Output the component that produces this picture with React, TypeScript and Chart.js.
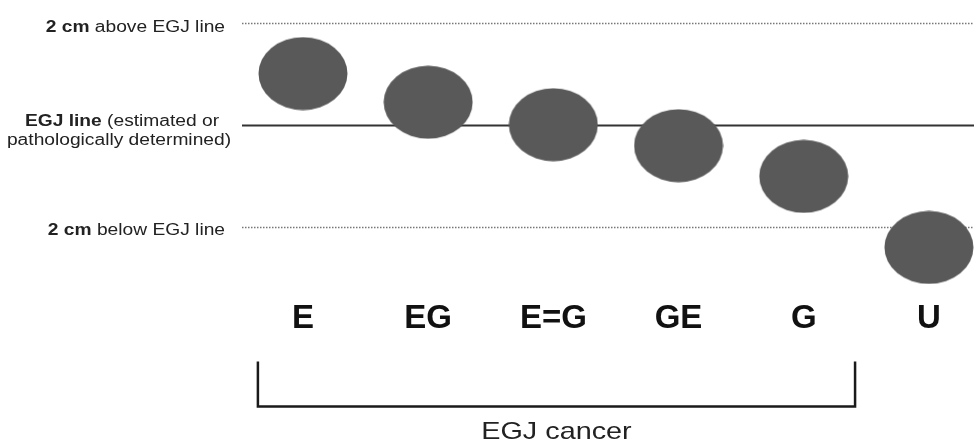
import { useEffect, useRef } from 'react';
import { Chart, registerables } from 'chart.js';

Chart.register(...registerables);

// ---- data ----
const categories = ['E', 'EG', 'E=G', 'GE', 'G', 'U'];
// tumour centre position, cm relative to the EGJ line (+ = above)
const tumorCenters = [1.01, 0.45, 0.01, -0.4, -1.0, -2.39];
const referenceLevels = [2, 0, -2];
const referenceKinds = ['dotted', 'solid', 'dotted'];
const aboveLabel = ['2 cm', ' above EGJ line'];
const lineLabelTop = ['EGJ line', ' (estimated or'];
const lineLabelBottom = ['', 'pathologically determined)'];
const belowLabel = ['2 cm', ' below EGJ line'];
const bracketFrom = 0; // E
const bracketTo = 4; // G
const bracketLabel = 'EGJ cancer';

const FONT = '"Liberation Sans", Arial, Helvetica, sans-serif';
const SX = 1.2; // horizontal stretch of the small texts

function makeEllipse(): HTMLCanvasElement {
  const c = document.createElement('canvas');
  c.width = 90;
  c.height = 74;
  const g = c.getContext('2d')!;
  g.fillStyle = '#595959';
  g.beginPath();
  g.ellipse(45, 37, 44.5, 36.5, 0, 0, Math.PI * 2);
  g.fill();
  return c;
}

function drawMixed(
  ctx: CanvasRenderingContext2D,
  parts: string[],
  x: number,
  y: number,
  align: 'right' | 'center',
  size: number
) {
  const bold = `bold ${size}px ${FONT}`;
  const normal = `${size}px ${FONT}`;
  ctx.font = bold;
  const wb = ctx.measureText(parts[0]).width;
  ctx.font = normal;
  const wn = ctx.measureText(parts[1]).width;
  const total = (wb + wn) * SX;
  const start = align === 'right' ? x - total : x - total / 2;
  ctx.save();
  ctx.translate(start, y);
  ctx.scale(SX, 1);
  ctx.textAlign = 'left';
  ctx.textBaseline = 'alphabetic';
  ctx.fillStyle = '#222';
  ctx.font = bold;
  ctx.fillText(parts[0], 0, 0);
  ctx.font = normal;
  ctx.fillText(parts[1], wb, 0);
  ctx.restore();
}

const diagramPlugin = {
  id: 'egjDiagram',
  beforeDatasetsDraw(chart: any) {
    const { ctx, chartArea, scales } = chart;
    const y = scales.y;
    ctx.save();
    referenceLevels.forEach((lv, i) => {
      const py = Math.round(y.getPixelForValue(lv));
      ctx.beginPath();
      if (referenceKinds[i] === 'dotted') {
        ctx.setLineDash([1.5, 1.5]);
        ctx.strokeStyle = '#777';
        ctx.lineWidth = 1.5;
      } else {
        ctx.setLineDash([]);
        ctx.strokeStyle = '#333';
        ctx.lineWidth = 2;
      }
      ctx.moveTo(chartArea.left, py + 0.5);
      ctx.lineTo(chartArea.right, py + 0.5);
      ctx.stroke();
    });
    ctx.restore();
  },
  afterDraw(chart: any) {
    const { ctx, chartArea, scales } = chart;
    const x = scales.x;
    const y = scales.y;
    ctx.save();
    // left labels
    drawMixed(ctx, aboveLabel, 225, y.getPixelForValue(referenceLevels[0]) + 9, 'right', 16);
    const p0 = y.getPixelForValue(referenceLevels[1]);
    drawMixed(ctx, lineLabelTop, 122, p0 + 1, 'center', 16);
    drawMixed(ctx, lineLabelBottom, 119, p0 + 20, 'center', 16);
    drawMixed(ctx, belowLabel, 225, y.getPixelForValue(referenceLevels[2]) + 8, 'right', 16);

    // bracket
    const xl = x.getPixelForValue(bracketFrom - 0.36);
    const xr = x.getPixelForValue(bracketTo + 0.41);
    const top = chartArea.bottom + 70;
    const bot = chartArea.bottom + 115;
    ctx.beginPath();
    ctx.setLineDash([]);
    ctx.strokeStyle = '#1a1a1a';
    ctx.lineWidth = 2.5;
    ctx.moveTo(xl, top);
    ctx.lineTo(xl, bot);
    ctx.lineTo(xr, bot);
    ctx.lineTo(xr, top);
    ctx.stroke();

    // bracket label
    ctx.font = `24px ${FONT}`;
    const w = ctx.measureText(bracketLabel).width * SX;
    ctx.translate((xl + xr) / 2 - w / 2, bot + 33);
    ctx.scale(SX, 1);
    ctx.fillStyle = '#222';
    ctx.textAlign = 'left';
    ctx.textBaseline = 'alphabetic';
    ctx.fillText(bracketLabel, 0, 0);
    ctx.restore();
  },
};

export default function App() {
  const ref = useRef<HTMLCanvasElement | null>(null);

  useEffect(() => {
    if (!ref.current) return;
    const ellipse = makeEllipse();
    const chart = new Chart(ref.current, {
      type: 'scatter',
      data: {
        datasets: [
          {
            data: categories.map((_, i) => ({ x: i, y: tumorCenters[i] })),
            pointStyle: ellipse as any,
            pointRadius: 45,
            showLine: false,
            clip: false as any,
          },
        ],
      },
      options: {
        animation: false,
        responsive: false,
        events: [],
        layout: { autoPadding: false, padding: { left: 242, right: 0, top: 0, bottom: 97 } },
        plugins: {
          legend: { display: false },
          tooltip: { enabled: false },
        },
        scales: {
          x: {
            type: 'linear',
            min: -0.487,
            max: 5.36,
            grid: { display: false, drawTicks: false },
            border: { display: false },
            afterBuildTicks: (axis: any) => {
              axis.ticks = categories.map((_, i) => ({ value: i }));
            },
            ticks: {
              autoSkip: false,
              maxRotation: 0,
              minRotation: 0,
              padding: 8,
              color: '#111',
              font: { family: FONT, size: 33, weight: 'bold' },
              callback: (v: any) => categories[v as number] ?? '',
            },
          },
          y: {
            display: false,
            min: -3.25,
            max: 2.45,
          },
        },
      },
      plugins: [diagramPlugin],
    });
    return () => chart.destroy();
  }, []);

  return (
    <div
      style={{
        position: 'fixed',
        left: 0,
        top: 0,
        width: 974,
        height: 444,
        background: '#fff',
      }}
    >
      <canvas ref={ref} width={974} height={444} style={{ width: 974, height: 444 }} />
    </div>
  );
}
